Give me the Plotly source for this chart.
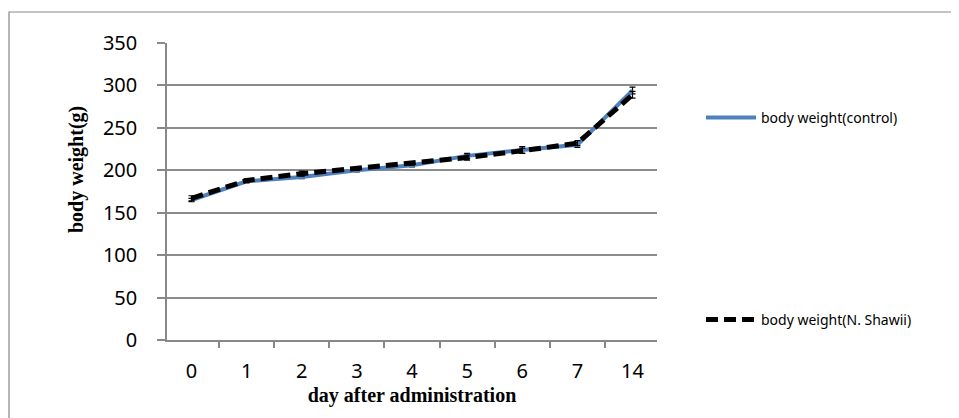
import plotly.graph_objects as go

days = ["0", "1", "2", "3", "4", "5", "6", "7", "14"]
control = [165, 187, 192, 200, 206, 217, 224, 230, 294]
control_err = [2, 2, 2, 2, 2, 3, 4, 3, 4]
shawii = [167, 188, 196, 202, 208, 215, 223, 232, 289]
shawii_err = [3, 2, 3, 2, 2, 3, 3, 3, 4]
y_ticks = [0, 50, 100, 150, 200, 250, 300, 350]

OFF = 8  # default page body margin
W, H = 959 - OFF, 418 - OFF
L, T = 167 - OFF, 43 - OFF
R, B = 302, 78
pw, ph = W - L - R, H - T - B

def px(x):
    return (x - OFF - L) / pw

def py(y):
    return (H - B - (y - OFF)) / ph

fig = go.Figure()
fig.add_trace(go.Scatter(
    x=days, y=control, name="body weight(control)", mode="lines",
    line=dict(color="#4F81BD", width=4),
    error_y=dict(type="data", array=control_err, color="#000000", thickness=1.2, width=3),
    legend="legend",
))
fig.add_trace(go.Scatter(
    x=days, y=shawii, name="body weight(N. Shawii)", mode="lines",
    line=dict(color="#000000", width=5, dash="12px,6px"),
    error_y=dict(type="data", array=shawii_err, color="#000000", thickness=1.2, width=3),
    legend="legend2",
))

legend_common = dict(xanchor="left", yanchor="middle", itemwidth=50,
                     font=dict(family="Noto Sans", size=14), bgcolor="rgba(0,0,0,0)")

fig.update_layout(
    width=W, height=H,
    showlegend=True,
    margin=dict(l=L, r=R, t=T, b=B, pad=0),
    paper_bgcolor="white", plot_bgcolor="white",
    font=dict(family="Noto Sans", size=20, color="#000000"),
    legend=dict(x=px(701), y=py(118), **legend_common),
    legend2=dict(x=px(701), y=py(320), visible=True, **legend_common),
    xaxis=dict(
        type="category", tickson="boundaries", ticks="outside", ticklen=6,
        tickcolor="#888888", tickwidth=1.5,
        showline=True, linecolor="#888888", linewidth=1.5,
        showgrid=False, ticklabelstandoff=12,
        tickfont=dict(family="Noto Sans", size=20),
        title=dict(text="<b>day after administration</b>", standoff=4,
                   font=dict(family="Liberation Serif", size=20)),
    ),
    yaxis=dict(
        range=[0, 350], tickvals=y_ticks, ticks="outside", ticklen=8,
        tickcolor="#888888", tickwidth=1.5,
        showline=True, linecolor="#888888", linewidth=1.5,
        showgrid=True, gridcolor="#8c8c8c", gridwidth=1.5, zeroline=False,
        ticklabelstandoff=16,
        tickfont=dict(family="Noto Sans", size=20),
    ),
    annotations=[dict(
        text="<b>body weight(g)</b>", textangle=-90,
        x=px(76), y=py(170), xref="paper", yref="paper",
        xanchor="center", yanchor="middle", showarrow=False,
        font=dict(family="Liberation Serif", size=20, color="#000000"),
    )],
    shapes=[dict(
        type="rect", xref="paper", yref="paper",
        x0=px(9), x1=px(955), y0=py(440), y1=py(12),
        line=dict(color="#888888", width=1.2), layer="below",
    )],
)

fig.write_html("out.html")
